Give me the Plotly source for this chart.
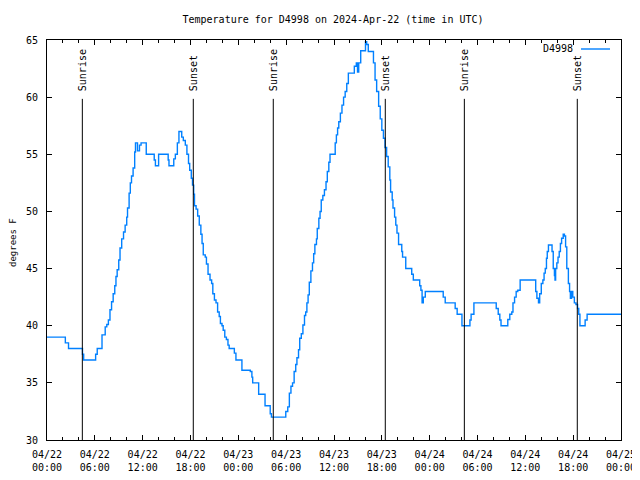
import plotly.graph_objects as go
import pandas as pd

base = pd.Timestamp("2024-04-22 00:00")

# hours after 2024-04-22 00:00 UTC and temperature (deg F)
hours = [0.0, 2.3, 2.7, 4.45, 4.6, 6.1, 6.3, 6.9, 7.3, 7.5, 7.7, 7.9, 8.1, 8.3, 8.5, 8.65, 8.8,
         9.0, 9.16, 9.37, 9.6, 9.8, 10.0, 10.1, 10.3, 10.45, 10.6, 10.8, 11.0, 11.1, 11.35, 11.6,
         11.8, 12.45, 13.45, 13.6, 14.0, 15.2, 15.3, 15.9, 16.1, 16.35, 16.55, 16.9, 17.1, 17.35,
         17.55, 17.75, 17.9, 18.1, 18.25, 18.4, 18.5, 18.7, 18.9, 19.1, 19.3, 19.45, 19.6, 19.85,
         20.0, 20.2, 20.45, 20.65, 20.8, 21.0, 21.2, 21.4, 21.6, 21.75, 21.95, 22.1, 22.3, 22.5,
         22.7, 22.85, 23.5, 23.7, 24.45, 25.5, 25.7, 25.8, 26.55, 27.35, 28.0, 28.15, 29.95,
         30.2, 30.4, 30.6, 30.8, 31.0, 31.2, 31.35, 31.55, 31.7, 31.9, 32.1, 32.3, 32.45, 32.6,
         32.75, 32.9, 33.1, 33.3, 33.45, 33.6, 33.8, 33.9, 34.1, 34.25, 34.4, 34.6, 34.8, 35.0,
         35.16, 35.35, 35.5, 36.15, 36.3, 36.45, 36.6, 36.8, 37.0, 37.2, 37.4, 37.6, 37.8, 38.55,
         38.8, 38.95, 39.1, 39.35, 39.95, 40.1, 40.3, 40.95, 41.15, 41.35, 41.6, 41.8, 42.0, 42.2,
         42.4, 42.6, 42.8, 43.0, 43.1, 43.3, 43.4, 43.6, 43.75, 43.9, 44.1, 44.5, 44.6, 45.0,
         45.75, 45.95, 46.75, 46.9, 47.05, 47.2, 47.45, 49.7, 49.95, 51.2, 51.45, 52.05, 53.05,
         53.2, 53.55, 56.35, 56.6, 56.8, 56.95, 57.8, 58.05, 58.3, 58.45, 58.65, 58.85, 59.05,
         59.35, 61.3, 61.45, 61.65, 61.8, 62.0, 62.2, 62.35, 62.5, 62.65, 62.75, 62.9, 63.35,
         63.5, 63.65, 63.72, 63.8, 63.95, 64.1, 64.25, 64.4, 64.55, 64.75, 64.9, 65.05, 65.2,
         65.4, 65.55, 65.65, 65.8, 65.95, 66.15, 66.35, 66.55, 66.7, 66.85, 67.5, 67.75, 72.0]
temps = [39, 38.5, 38, 37.5, 37, 37.5, 38, 39.2, 39.9, 40.1, 40.5, 41.4, 42.1, 42.8, 43.5, 44.3, 44.9,
         45.75, 46.8, 47.6, 48.2, 48.8, 49.5, 50.3, 51.6, 52.5, 53.1, 53.8, 55.2, 56.0, 55.3, 55.8,
         56, 55, 54.5, 54, 55, 54.5, 54, 54.6, 55, 56, 57, 56.5, 56.2, 55.8,
         55, 54.2, 53.6, 52.9, 52.3, 51.5, 50.5, 50.2, 49.6, 48.8, 48.0, 47.2, 46.2, 46.0,
         45.4, 44.5, 44.0, 43.7, 42.8, 42.25, 42, 41.2, 40.8, 40.2, 40, 39.6, 39.0, 38.8,
         38.3, 38, 37.6, 37, 36.1, 36, 35.5, 35, 34, 33, 32.3, 32, 32.5,
         32.9, 34.1, 34.7, 35.0, 36.0, 36.6, 37.2, 37.9, 38.9, 39.3, 40.06, 40.9, 41.2, 42,
         42.7, 43.8, 44.8, 45.5, 46.3, 47.1, 47.6, 48.5, 49.4, 50.0, 51, 51.4, 51.9, 52.6,
         53.5, 54.3, 55.0, 56, 56.7, 57.3, 57.85, 58.6, 59.3, 60.0, 60.5, 61.2, 62.1, 62.7,
         63.0, 62.2, 63, 64.06, 64.85, 64.6, 64, 63, 61.5, 60.5, 59.2, 58.1, 57.1, 56.4,
         55.6, 54.8, 53.9, 52.75, 51.7, 51, 50.3, 49.5, 48.8, 48.1, 47.1, 46.5, 46.0, 45.0,
         44.5, 44.0, 43.5, 43.1, 42.0, 42.5, 43.0, 42.5, 42.0, 41.5, 41.0, 40.0, 40.5,
         41, 42, 41.5, 41, 40.5, 40, 40.55, 41, 41.2, 42, 42.5, 43, 43.1,
         44, 43.0, 42.4, 42.0, 42.8, 43.7, 44, 44.6, 45, 45.9, 46.5, 47.06, 46.5,
         45, 44.4, 44, 45, 45.5, 46, 46.5, 47.2, 47.65, 48, 47.85, 46.9, 45,
         43.7, 43.0, 42.4, 43.0, 42.5, 42, 41.85, 41.5, 41.0, 40.0, 40.5, 41, 41]

sun_times = ["2024-04-22 04:26", "2024-04-22 18:21", "2024-04-23 04:23",
             "2024-04-23 18:26", "2024-04-24 04:21", "2024-04-24 18:31"]
sun_labels = ["Sunrise", "Sunset", "Sunrise", "Sunset", "Sunrise", "Sunset"]

station = "D4998"
title = "Temperature for D4998 on 2024-Apr-22 (time in UTC)"

times = [base + pd.Timedelta(hours=h) for h in hours]

FONT = "DejaVu Sans Mono"
# page body has an 8px margin; figure sized so plot lands at x 47-621, y 40-440 in the window
W, H = 632, 472
OFF = 8

fig = go.Figure()
fig.add_trace(go.Scatter(x=times, y=temps, mode="lines", line=dict(color="#0080ff", width=1.4, shape="hv"),
                         name=station, showlegend=False, hoverinfo="skip"))

shapes = []
annotations = []
for t, lab in zip(sun_times, sun_labels):
    shapes.append(dict(type="line", xref="x", yref="y", x0=t, x1=t, y0=30, y1=59.85,
                       line=dict(color="black", width=1)))
    annotations.append(dict(x=t, y=59.85, xref="x", yref="y", text=lab, textangle=-90,
                            showarrow=False, xanchor="center", yanchor="bottom", yshift=6, xshift=1,
                            font=dict(family=FONT, size=10, color="black")))

# legend key (gnuplot style: text then line sample)
annotations.append(dict(x=(575 - 47) / 574, y=1 - (49 - 40) / 400, xref="paper", yref="paper",
                        text=station, showarrow=False, xanchor="right", yanchor="middle",
                        font=dict(family=FONT, size=10, color="black")))
shapes.append(dict(type="line", xref="paper", yref="paper", x0=(581 - 47) / 574, x1=(610 - 47) / 574,
                   y0=1 - (49 - 40) / 400, y1=1 - (49 - 40) / 400, line=dict(color="#0080ff", width=1.4)))

annotations.append(dict(x=(13 - 47) / 574, y=1 - (243 - 40) / 400, xref="paper", yref="paper",
                        text="degrees F", textangle=-90, showarrow=False, xanchor="center",
                        yanchor="middle", font=dict(family=FONT, size=9, color="black")))

fig.update_layout(
    width=W, height=H,
    margin=dict(l=47 - OFF, r=W - (621 - OFF), t=40 - OFF, b=H - (440 - OFF), pad=0, autoexpand=False),
    paper_bgcolor="white", plot_bgcolor="white",
    title=dict(text=title, x=(333 - OFF) / W, xanchor="center", y=1 - (19 - OFF) / H, yanchor="middle",
               font=dict(family=FONT, size=10, color="black")),
    font=dict(family=FONT, size=10, color="black"),
    shapes=shapes, annotations=annotations,
    xaxis=dict(range=[base, base + pd.Timedelta(hours=72)], dtick=6 * 3600 * 1000,
               tick0=base, tickformat="%m/%d<br>%H:%M", ticks="inside", ticklen=5,
               tickcolor="black", showline=True, linecolor="black", linewidth=1, mirror="ticks",
               showgrid=False, zeroline=False, ticklabelstandoff=5,
               minor=dict(dtick=2 * 3600 * 1000, ticks="inside", ticklen=3, tickcolor="black",
                          showgrid=False),
               tickfont=dict(family=FONT, size=10, color="black")),
    yaxis=dict(range=[30, 65], dtick=5, ticks="inside", ticklen=5, tickcolor="black",
               showline=True, linecolor="black", linewidth=1, mirror="ticks",
               showgrid=False, zeroline=False, ticklabelstandoff=6,
               tickfont=dict(family=FONT, size=10, color="black")),
)

fig.write_html("out.html")
